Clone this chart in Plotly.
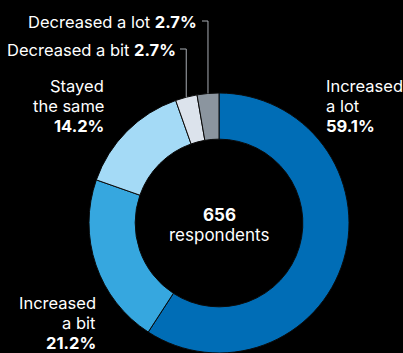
import math
import plotly.graph_objects as go

# Survey responses
categories = ["Increased a lot", "Increased a bit", "Stayed the same",
              "Decreased a bit", "Decreased a lot"]
shares = [59.1, 21.2, 14.2, 2.7, 2.7]
colors = ["#006DB6", "#36A7DF", "#A4DAF6", "#DCE3EC", "#8B959F"]
total_respondents = 656

W, H = 403, 353
FONT = "Inter"
LABEL_SIZE = 16.5
CENTER_SIZE = 17

# Donut placement in pixels (centre and outer radius)
cx, cy, R = 219.0, 223.0, 130.0
hole = 0.645


def px(x):
    return x / W


def py(y):
    return 1 - y / H


fig = go.Figure(go.Pie(
    labels=categories,
    values=shares,
    marker=dict(colors=colors, line=dict(color="#0a0a0a", width=1)),
    hole=hole,
    sort=False,
    direction="clockwise",
    rotation=0,
    textinfo="none",
    hoverinfo="label+percent",
    showlegend=False,
    domain=dict(x=[px(cx - R), px(cx + R)], y=[py(cy + R), py(cy - R)]),
))

ann = []


def block(lines, x, y0, xanchor, step=20, size=LABEL_SIZE):
    """One annotation per text line so the line spacing stays fixed."""
    for i, t in enumerate(lines):
        ann.append(dict(text=t, x=px(x), y=py(y0 + i * step),
                        xref="paper", yref="paper",
                        xanchor=xanchor, yanchor="middle",
                        showarrow=False,
                        font=dict(color="white", size=size, family=FONT)))


block(["Increased", "a lot", f"<b>{shares[0]:.1f}%</b>"], 324, 86, "left")
block(["Increased", "a bit", f"<b>{shares[1]:.1f}%</b>"], 98, 303, "right")
block(["Stayed", "the same", f"<b>{shares[2]:.1f}%</b>"], 106, 86, "right")
block([f"{categories[3]} <b>{shares[3]:.1f}%</b>"], 178, 50, "right")
block([f"{categories[4]} <b>{shares[4]:.1f}%</b>"], 199, 22, "right")

# Centre total
block([f"<b>{total_respondents}</b>", "respondents"], cx, 215, "center",
      step=20, size=CENTER_SIZE)

# Leader lines for the two thin slices, ending at each slice's mid-angle
total = sum(shares)
shapes = []
cum = 0.0
mids = []
for v in shares:
    mids.append((cum + v / 2) / total * 2 * math.pi)
    cum += v

for idx, y_lbl, x_start in [(3, 49, 180), (4, 21, 202)]:
    a = mids[idx]
    xe = cx + R * math.sin(a)
    ye = cy - R * math.cos(a)
    path = (f"M {px(x_start)} {py(y_lbl)} L {px(xe)} {py(y_lbl)} "
            f"L {px(xe)} {py(ye)}")
    shapes.append(dict(type="path", path=path, xref="paper", yref="paper",
                       line=dict(color="#A8ADB3", width=1)))

fig.update_layout(
    width=W, height=H,
    margin=dict(l=0, r=0, t=0, b=0),
    paper_bgcolor="black",
    plot_bgcolor="black",
    annotations=ann,
    shapes=shapes,
)

fig.write_html("out.html")
